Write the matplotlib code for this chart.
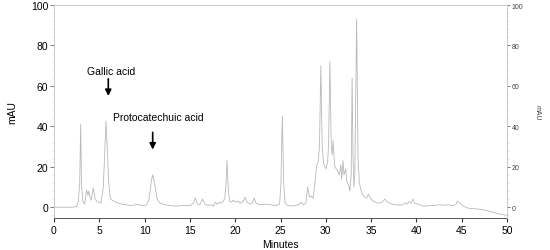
import matplotlib
matplotlib.use("Agg")
import matplotlib.pyplot as plt
from matplotlib.ticker import MultipleLocator

plt.rcParams["font.family"] = ["Liberation Sans", "DejaVu Sans"]

# chromatogram trace (minutes, mAU)
minutes = [
    0.0, 2.0, 2.5, 2.7, 2.85, 2.95, 3.05, 3.2, 3.4, 3.6, 3.75, 3.85, 3.95, 4.1,
    4.35, 4.55, 4.8, 5.0, 5.2, 5.45, 5.6, 5.75, 5.9, 6.05, 6.2, 6.4, 6.8, 7.5,
    8.5, 9.0, 9.3, 9.6, 10.2, 10.5, 10.75, 10.9, 11.1, 11.4, 11.7, 12.5, 13.5,
    14.0, 15.0, 15.4, 15.6, 15.85, 16.1, 16.4, 16.7, 17.0, 17.4, 17.6, 17.8,
    18.0, 18.3, 18.5, 18.7, 18.85, 19.0, 19.1, 19.25, 19.4, 19.6, 19.8, 20.0,
    20.3, 20.6, 20.9, 21.1, 21.3, 21.7, 21.9, 22.1, 22.3, 22.7, 23.5, 24.5,
    24.9, 25.05, 25.2, 25.35, 25.5, 25.8, 26.3, 27.0, 27.3, 27.5, 27.8, 28.0,
    28.2, 28.4, 28.6, 28.8, 29.0, 29.15, 29.3, 29.45, 29.6, 29.75, 29.9, 30.05,
    30.2, 30.3, 30.45, 30.6, 30.7, 30.8, 30.9, 31.0, 31.3, 31.5, 31.65, 31.75,
    31.9, 32.0, 32.2, 32.3, 32.5, 32.65, 32.8, 32.9, 33.0, 33.1, 33.2, 33.4,
    33.55, 33.7, 33.9, 34.1, 34.3, 34.5, 34.7, 34.9, 35.2, 35.8, 36.2, 36.5,
    36.8, 37.3, 38.0, 38.5, 38.8, 39.0, 39.2, 39.4, 39.6, 39.8, 40.2, 40.8,
    41.5, 42.0, 42.5, 43.0, 43.5, 44.0, 44.4, 44.5, 44.8, 45.2, 45.7, 46.5,
    47.3, 48.0, 49.0, 50.0,
]
mau = [
    0.0, 0.0, 0.3, 3.0, 12.0, 41.0, 10.0, 3.0, 1.5, 8.5, 6.0, 8.0, 5.5, 3.5,
    9.5, 4.0, 2.5, 2.5, 2.0, 10.0, 26.0, 42.5, 28.0, 12.0, 5.0, 3.5, 2.5, 1.5,
    0.8, 1.2, 1.5, 0.8, 1.0, 4.0, 13.0, 16.0, 12.0, 4.0, 2.0, 1.0, 0.5,
    0.8, 0.8, 2.0, 4.5, 1.5, 1.2, 4.0, 1.5, 0.8, 1.2, 0.5, 2.5,
    1.5, 2.5, 2.0, 3.0, 4.5, 12.0, 23.0, 8.0, 3.0, 2.5, 3.5, 2.5,
    3.0, 2.0, 3.0, 5.0, 2.5, 1.5, 2.0, 4.5, 2.0, 1.2, 1.5, 0.8,
    1.5, 12.0, 45.0, 12.0, 2.0, 0.8, 0.6, 1.2, 2.5, 1.2, 2.0, 10.0,
    5.0, 5.5, 4.5, 12.0, 21.0, 22.0, 30.0, 70.0, 30.0, 22.0, 20.0, 19.0,
    23.0, 30.0, 72.0, 30.0, 26.0, 33.0, 25.0, 20.0, 18.0, 16.0, 21.0, 14.0,
    23.0, 16.0, 19.0, 13.0, 11.0, 8.0, 16.0, 64.0, 25.0, 10.0, 16.0, 93.0,
    25.0, 12.0, 8.0, 6.0, 5.0, 4.5, 6.5, 4.5, 3.0, 2.0, 2.5, 4.0,
    2.5, 1.5, 1.0, 1.2, 2.2, 1.5, 2.8, 2.0, 4.0, 2.0, 1.5, 0.5,
    0.8, 0.8, 1.2, 1.0, 1.2, 0.8, 1.5, 3.0, 2.0, 0.5, -0.5, -0.8,
    -1.2, -2.0, -3.2, -4.0,
]

# annotations: label, text position, arrow start, arrow end
labels = ["Gallic acid", "Protocatechuic acid"]
label_xy = [(6.35, 67.5), (11.5, 44.5)]
arrow_from = [(6.0, 63.5), (10.9, 37.0)]
arrow_to = [(6.0, 55.0), (10.9, 28.5)]


fig = plt.figure(figsize=(5.5, 2.51), dpi=100)
ax = fig.add_axes([0.098, 0.127, 0.824, 0.849])

ax.plot(minutes, mau, color="#b8b8b8", linewidth=0.6)
ax.set_xlim(0, 50)
ax.set_ylim(-5.4, 100)

ax.xaxis.set_major_locator(MultipleLocator(5))
ax.yaxis.set_minor_locator(MultipleLocator(4))
ax.set_yticks([0, 20, 40, 60, 80, 100])
ax.tick_params(axis="x", labelsize=7.5, length=3, width=0.8, color="#333333", pad=2)
ax.tick_params(axis="y", labelsize=7.5, length=3, width=0.6, color="#666666", pad=1)
ax.tick_params(axis="y", which="minor", length=1.5, width=0.4, color="#cccccc")

for side in ["left", "top"]:
    ax.spines[side].set_color("#c8c8c8")
    ax.spines[side].set_linewidth(0.7)
ax.spines["bottom"].set_color("#555555")
ax.spines["bottom"].set_linewidth(0.7)
ax.spines["right"].set_visible(False)

ax.set_xlabel("Minutes", fontsize=7.5, labelpad=2.5)
ax.set_ylabel("mAU", fontsize=7.5, labelpad=9.5)

# right-hand secondary scale, same units
ax2 = ax.twinx()
ax2.set_ylim(ax.get_ylim())
ax2.set_yticks([0, 20, 40, 60, 80, 100])
ax2.yaxis.set_minor_locator(MultipleLocator(4))
ax2.tick_params(axis="y", labelsize=5, length=2.5, width=0.6, color="#666666",
                labelcolor="#444444", pad=1)
ax2.tick_params(axis="y", which="minor", length=1.5, width=0.4, color="#cccccc")
for side in ["left", "top", "bottom"]:
    ax2.spines[side].set_visible(False)
ax2.spines["right"].set_color("#c8c8c8")
ax2.spines["right"].set_linewidth(0.7)
ax2.set_ylabel("mAU", fontsize=5, rotation=270, labelpad=12, color="#444444")

for name, txy, a0, a1 in zip(labels, label_xy, arrow_from, arrow_to):
    ax.text(txy[0], txy[1], name, fontsize=7.5, ha="center", va="center")
    ax.annotate("", xy=a1, xytext=a0,
                arrowprops=dict(arrowstyle="-|>", color="black", lw=1.2,
                                mutation_scale=9, shrinkA=0, shrinkB=0))

fig.savefig("out.png", dpi=100)
